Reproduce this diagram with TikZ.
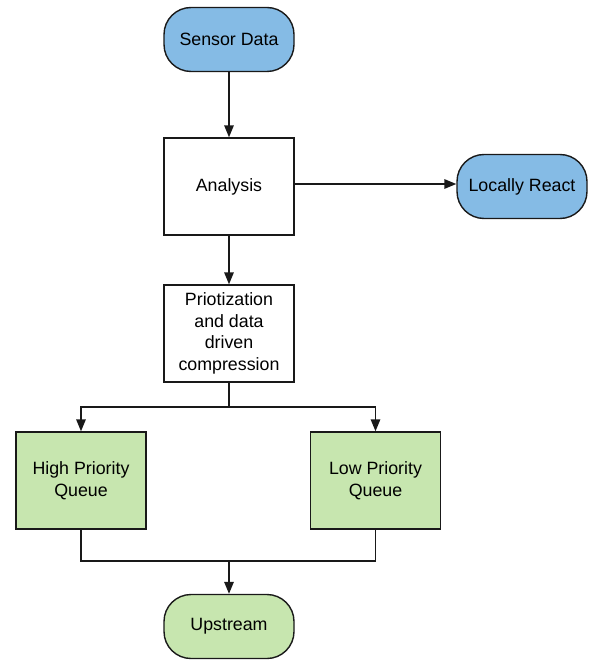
\documentclass[tikz,border=0pt]{standalone}
\usepackage{fontspec}
\setmainfont{Liberation Sans}
\usetikzlibrary{arrows.meta}
\definecolor{blueA}{RGB}{133,187,229}
\definecolor{greenA}{RGB}{199,230,175}
\definecolor{lineC}{RGB}{25,25,25}
\begin{document}
\begin{tikzpicture}[x=1pt,y=-1pt,
 base/.style={draw=lineC, line width=1.4pt, font=\fontsize{17.8}{21.5}\selectfont, align=center, inner sep=0pt},
 term/.style={base, rounded corners=27pt, minimum width=130pt, minimum height=64pt},
 proc/.style={base, minimum width=130pt, minimum height=97pt},
 conn/.style={draw=lineC, line width=1.5pt, -{Triangle[length=12pt,width=9.5pt]}},
 link/.style={draw=lineC, line width=1.5pt}
]
\useasboundingbox (0,0) rectangle (590,660);
\node[term, fill=blueA] (sensor) at (229,39.5) {Sensor Data};
\node[proc, fill=white] (analysis) at (229,186.5) {Analysis};
\node[term, fill=blueA] (react) at (522,186.5) {Locally React};
\node[proc, fill=white] (prio) at (229,333.5) {Priotization\\and data\\driven\\compression};
\node[proc, fill=greenA] (high) at (81,480.5) {High Priority\\Queue};
\node[proc, fill=greenA] (low) at (375.5,480.5) {Low Priority\\Queue};
\node[term, fill=greenA] (up) at (229,626.5) {Upstream};
\coordinate (split) at (229,407);
\coordinate (merge) at (229,561);
\draw[conn] (sensor) -- (analysis);
\draw[conn] (analysis.east |- 0,184) -- (react.west |- 0,184);
\draw[conn] (analysis) -- (prio);
\draw[link] (prio.south) -- (split);
\draw[conn] (split) -| (high.north);
\draw[conn] (split) -| (low.north);
\draw[link] (high.south) |- (merge);
\draw[link] (low.south) |- (merge);
\draw[conn] (merge) -- (up.north);
\end{tikzpicture}
\end{document}
